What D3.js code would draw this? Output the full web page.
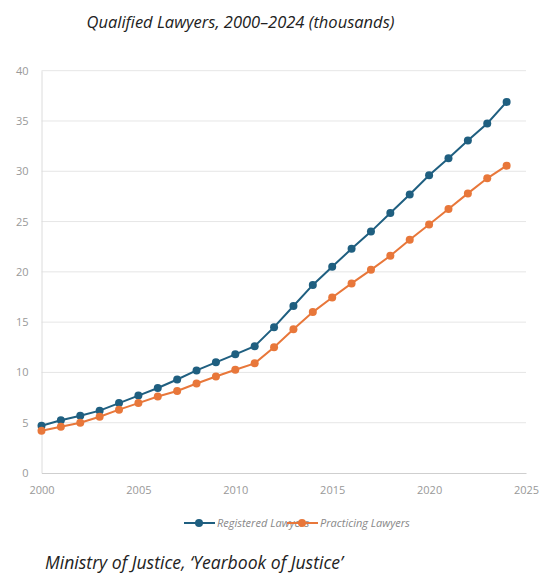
<!DOCTYPE html>
<html>
<head>
<meta charset="utf-8">
<script src="https://cdn.jsdelivr.net/npm/d3@7"></script>
<style>
  html, body { margin: 0; padding: 0; background: #fff; }
  svg { display: block; font-family: "Open Sans", "Noto Sans", sans-serif; }
</style>
</head>
<body>
<svg id="chart" width="542" height="575"></svg>
<script>
const years = d3.range(2000, 2025);
const registered = [4.7, 5.25, 5.7, 6.2, 6.95, 7.7, 8.45, 9.3, 10.2, 11.0, 11.8, 12.6, 14.5, 16.6, 18.7, 20.5, 22.3, 24.0, 25.85, 27.7, 29.6, 31.3, 33.05, 34.75, 36.9];
const practicing = [4.2, 4.6, 5.0, 5.6, 6.3, 6.95, 7.6, 8.15, 8.9, 9.6, 10.26, 10.9, 12.5, 14.3, 16.0, 17.45, 18.85, 20.2, 21.6, 23.2, 24.7, 26.25, 27.8, 29.3, 30.56];
const seriesNames = ["Registered Lawyers", "Practicing Lawyers"];
const seriesColors = ["#1f5f80", "#e8773a"];
const xTicks = [2000, 2005, 2010, 2015, 2020, 2025];
const yTicks = [0, 5, 10, 15, 20, 25, 30, 35, 40];
const titleText = "Qualified Lawyers, 2000–2024 (thousands)";
const sourceText = "Ministry of Justice, ‘Yearbook of Justice’";

const svg = d3.select("#chart");
const m = { left: 41.5, right: 526, top: 70.7, bottom: 473 };

const x = d3.scaleLinear().domain([2000, 2025]).range([m.left, m.right]);
const y = d3.scaleLinear().domain([0, 40]).range([m.bottom, m.top]);

// title
svg.append("text")
  .attr("x", 240.5).attr("y", 28)
  .attr("text-anchor", "middle")
  .attr("font-size", 16.5)
  .attr("font-style", "italic")
  .style("font-stretch", "94%")
  .attr("fill", "#222")
  .text(titleText);

// grid
svg.append("g")
  .selectAll("line")
  .data(yTicks.filter(d => d > 0))
  .join("line")
  .attr("x1", m.left).attr("x2", m.right)
  .attr("y1", d => y(d)).attr("y2", d => y(d))
  .attr("stroke", "#e6e6e6").attr("stroke-width", 1);

// y axis
const yAxis = svg.append("g")
  .attr("transform", `translate(${m.left},0)`)
  .call(d3.axisLeft(y).tickValues(yTicks).tickSize(0).tickPadding(13));
yAxis.select(".domain").attr("stroke", "#dcdcdc");
yAxis.selectAll("text").attr("font-size", 11).attr("fill", "#999")
  .attr("font-family", "'Open Sans', sans-serif");

// x axis
const xAxis = svg.append("g")
  .attr("transform", `translate(0,${m.bottom})`)
  .call(d3.axisBottom(x).tickValues(xTicks).tickFormat(d3.format("d")).tickSize(0).tickPadding(13));
xAxis.select(".domain").attr("stroke", "#cfcfcf");
xAxis.selectAll("text").attr("font-size", 11).attr("fill", "#999")
  .attr("font-family", "'Open Sans', sans-serif");

// lines
const data = [registered, practicing];
const line = d3.line().x((d, i) => x(years[i])).y(d => y(d));
data.forEach((vals, k) => {
  svg.append("path")
    .datum(vals)
    .attr("d", line)
    .attr("fill", "none")
    .attr("stroke", seriesColors[k])
    .attr("stroke-width", 2);
  svg.append("g")
    .selectAll("circle")
    .data(vals)
    .join("circle")
    .attr("cx", (d, i) => x(years[i]))
    .attr("cy", d => y(d))
    .attr("r", 4)
    .attr("fill", seriesColors[k]);
});

// legend
const legendX = [184, 287];
const legendY = 523;
seriesNames.forEach((name, k) => {
  const g = svg.append("g").attr("transform", `translate(${legendX[k]},${legendY})`);
  g.append("line").attr("x1", 0).attr("x2", 31).attr("y1", 0).attr("y2", 0)
    .attr("stroke", seriesColors[k]).attr("stroke-width", 2);
  g.append("circle").attr("cx", 15).attr("cy", 0).attr("r", 4).attr("fill", seriesColors[k]);
  g.append("text").attr("x", 33).attr("y", 4)
    .attr("font-size", 11).attr("font-style", "italic")
    .attr("fill", "#888").text(name);
});

// source
svg.append("text")
  .attr("x", 45).attr("y", 569)
  .attr("font-size", 17.6)
  .attr("font-style", "italic")
  .style("font-stretch", "94%")
  .attr("fill", "#222")
  .text(sourceText);
</script>
</body>
</html>
